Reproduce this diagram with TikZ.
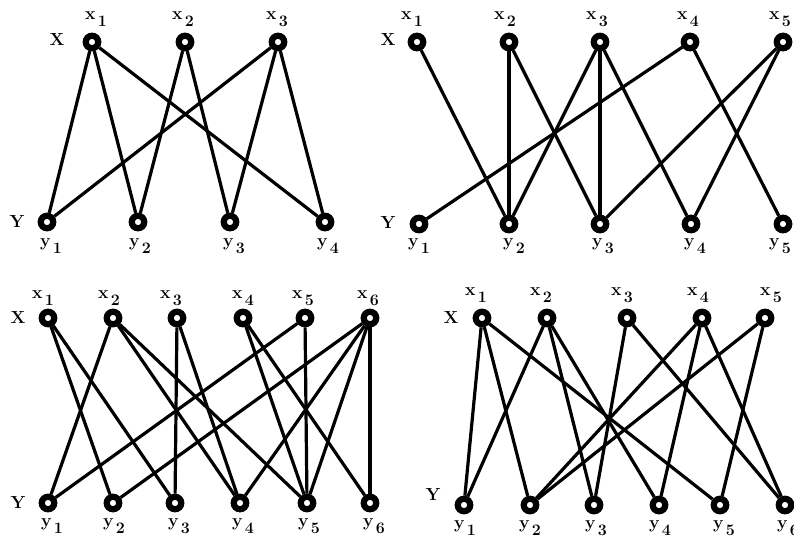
\documentclass[tikz,border=0pt]{standalone}
\usepackage{tikz}
\newcommand{\vlab}[2]{\textbf{#1}\kern2.5pt\raisebox{-6.5pt}{\fontsize{16}{16}\selectfont\textbf{#2}}}
\tikzset{
  vtx/.style={circle, draw=black, line width=6.2pt, fill=white, minimum size=12.5pt, inner sep=0pt},
  lab/.style={inner sep=0pt, font=\fontsize{17.5}{18}\selectfont},
  side/.style={inner sep=0pt, font=\fontsize{17.5}{18}\selectfont\bfseries},
  edge/.style={line width=3.2pt, black}
}
\begin{document}
\begin{tikzpicture}[x=1pt,y=-1pt]
\useasboundingbox (0,0) rectangle (794,541);
% ---------- Panel 1 ----------
\node[side] (p1X) at (57,39) {X};
\node[side] (p1Y) at (17,221) {Y};
\foreach \i/\x/\lx in {1/92/96, 2/185/183, 3/278/277}{
  \node[vtx] (p1x\i) at (\x,42) {};
  \node[lab] (p1lx\i) at (\lx,19) {\vlab{x}{\i}};
}
\foreach \i/\x/\lx in {1/47/51, 2/138/140, 3/230/234, 4/325/328}{
  \node[vtx] (p1y\i) at (\x,222) {};
  \node[lab] (p1ly\i) at (\lx,246) {\vlab{y}{\i}};
}
\foreach \u/\v in {1/1,1/2,1/4,2/2,2/3,3/1,3/3,3/4}
  \draw[edge] (p1x\u) -- (p1y\v);
% ---------- Panel 2 ----------
\node[side] (p2X) at (388,39) {X};
\node[side] (p2Y) at (388,222) {Y};
\foreach \i/\x/\lx in {1/417/412, 2/509/505, 3/600/597, 4/690/688, 5/783/780}{
  \node[vtx] (p2x\i) at (\x,42) {};
  \node[lab] (p2lx\i) at (\lx,19) {\vlab{x}{\i}};
}
\foreach \i/\x/\lx in {1/419/419, 2/509/514, 3/600/603, 4/691/695, 5/783/780}{
  \node[vtx] (p2y\i) at (\x,224) {};
  \node[lab] (p2ly\i) at (\lx,246) {\vlab{y}{\i}};
}
\foreach \u/\v in {1/2,2/2,2/3,3/2,3/3,3/4,4/1,4/5,5/3,5/4}
  \draw[edge] (p2x\u) -- (p2y\v);
% ---------- Panel 3 ----------
\node[side] (p3X) at (18,317) {X};
\node[side] (p3Y) at (18,502) {Y};
\foreach \i/\x/\lx in {1/48/43, 2/113/109, 3/177/171, 4/243/243, 5/305/303, 6/370/368}{
  \node[vtx] (p3x\i) at (\x,318) {};
  \node[lab] (p3lx\i) at (\lx,298) {\vlab{x}{\i}};
}
\foreach \i/\x/\lx in {1/48/52, 2/113/114, 3/175/179, 4/240/243, 5/307/309, 6/370/374}{
  \node[vtx] (p3y\i) at (\x,503) {};
  \node[lab] (p3ly\i) at (\lx,526) {\vlab{y}{\i}};
}
\foreach \u/\v in {1/2,1/3,2/1,2/4,2/5,3/3,3/4,4/5,4/6,5/1,5/5,6/2,6/4,6/5,6/6}
  \draw[edge] (p3x\u) -- (p3y\v);
% ---------- Panel 4 ----------
\node[side] (p4X) at (451,317) {X};
\node[side] (p4Y) at (433,494) {Y};
\foreach \i/\x/\lx in {1/482/476, 2/547/541, 3/627/622, 4/702/698, 5/765/771}{
  \node[vtx] (p4x\i) at (\x,318) {};
  \node[lab] (p4lx\i) at (\lx,295) {\vlab{x}{\i}};
}
\foreach \i/\x/\lx in {1/464/465, 2/530/530, 3/594/596, 4/659/660, 5/720/724, 6/785/788}{
  \node[vtx] (p4y\i) at (\x,505) {};
  \node[lab] (p4ly\i) at (\lx,528) {\vlab{y}{\i}};
}
\foreach \u/\v in {1/1,1/2,1/5,2/1,2/3,2/4,3/3,3/6,4/2,4/4,4/6,5/2,5/5}
  \draw[edge] (p4x\u) -- (p4y\v);
\end{tikzpicture}
\end{document}
